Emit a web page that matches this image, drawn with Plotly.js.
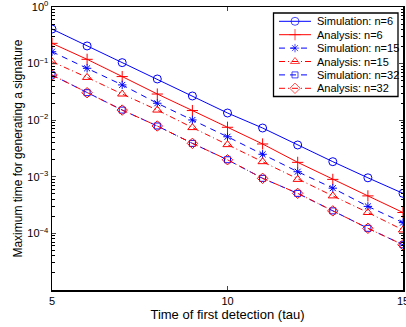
<!DOCTYPE html>
<html><head><meta charset="utf-8">
<script src="https://cdn.plot.ly/plotly-3.0.1.min.js"></script>
<style>html,body{margin:0;padding:0;background:#fff;}#chart{width:406px;height:327px;}</style>
</head><body><div id="chart"></div>
<script>
var tau = [5, 6, 7, 8, 9, 10, 11, 12, 13, 14, 15];
var simN6 = [0.408, 0.205, 0.104, 0.0535, 0.0268, 0.0134, 0.00728, 0.00365, 0.00185, 0.00096, 0.00051];
var anaN6 = [0.228, 0.119, 0.059, 0.029, 0.0148, 0.0075, 0.0038, 0.0018, 0.0009, 0.00046, 0.000234];
var simN15 = [0.162, 0.0826, 0.042, 0.0199, 0.0101, 0.0051, 0.0025, 0.00123, 0.00063, 0.0003, 0.000155];
var anaN15 = [0.108, 0.057, 0.029, 0.0151, 0.0074, 0.0037, 0.00185, 0.0009, 0.00046, 0.000234, 0.000115];
var simN32 = [0.063, 0.0306, 0.0151, 0.0079, 0.0039, 0.0020, 0.00094, 0.00051, 0.00025, 0.000123, 0.000063];
var anaN32 = [0.063, 0.0306, 0.0151, 0.0079, 0.0039, 0.0020, 0.00094, 0.00051, 0.00025, 0.000123, 0.000063];
var seriesNames = ['Simulation: n=6', 'Analysis: n=6', 'Simulation: n=15', 'Analysis: n=15', 'Simulation: n=32', 'Analysis: n=32'];
var yTickVals = [1e-5, 1e-4, 1e-3, 1e-2, 1e-1, 1];
var yTickText = ['', '10<sup>\u22124</sup>', '10<sup>\u22123</sup>', '10<sup>\u22122</sup>', '10<sup>\u22121</sup>', '10<sup>0</sup>'];
var xTickVals = [5, 10, 15];

var BLUE = 'rgb(0,0,255)', RED = 'rgb(255,0,0)';
var DASH = '6px,5px', DASHDOT = '6px,3px,1px,3px';
var styles = [
  {c: BLUE, d: 'solid', s: 'circle-open', z: 8},
  {c: RED, d: 'solid', s: 'cross-thin-open', z: 8},
  {c: BLUE, d: DASH, s: 'asterisk-open', z: 7},
  {c: RED, d: DASHDOT, s: 'triangle-up-open', z: 8},
  {c: BLUE, d: DASH, s: 'square-open', z: 6},
  {c: RED, d: DASHDOT, s: 'diamond-open', z: 8}
];
var series = [simN6, anaN6, simN15, anaN15, simN32, anaN32];
var data = [];
series.forEach(function (y, i) {
  var st = styles[i];
  data.push({x: tau, y: y, name: seriesNames[i], type: 'scatter', mode: 'lines+markers', showlegend: false,
    line: {color: st.c, width: 1, dash: st.d},
    marker: {symbol: st.s, size: st.z, color: st.c, line: {color: st.c, width: 1}}});
});

// custom compact legend drawn in a pixel-unit overlay axis
var legX0 = 279, legX1 = 311, legTextX = 315, legRow0 = 21.3, legRowH = 13.4;
var annotations = [];
series.forEach(function (y, i) {
  var st = styles[i];
  var ry = legRow0 + i * legRowH;
  data.push({x: [legX0, (legX0 + legX1) / 2, legX1], y: [ry, ry, ry], xaxis: 'x2', yaxis: 'y2',
    type: 'scatter', mode: 'lines+markers', showlegend: false, hoverinfo: 'skip',
    line: {color: st.c, width: 1, dash: st.d},
    marker: {symbol: st.s, size: [0, st.z, 0], color: st.c, line: {color: st.c, width: 1}}});
  annotations.push({xref: 'x2', yref: 'y2', x: legTextX, y: ry, text: seriesNames[i], showarrow: false,
    xanchor: 'left', yanchor: 'middle', font: {size: 11, color: '#000'}});
});

var minorVals = [];
for (var k = -5; k < 0; k++) for (var m = 2; m <= 9; m++) minorVals.push(m * Math.pow(10, k));

var layout = {
  width: 406, height: 327,
  margin: {l: 52, r: 3, t: 7, b: 37},
  paper_bgcolor: '#fff', plot_bgcolor: '#fff',
  font: {family: 'Liberation Sans, Arial, sans-serif', size: 11, color: '#000'},
  showlegend: false,
  annotations: annotations,
  shapes: [{type: 'rect', xref: 'x2', yref: 'y2', x0: 273.5, x1: 398, y0: 13, y1: 96.5,
    line: {color: '#000', width: 1.3}, fillcolor: '#fff', layer: 'below'}],
  xaxis: {range: [5, 15], tickvals: xTickVals, ticks: 'inside', ticklen: 4,
    showline: true, linecolor: '#000', linewidth: 1.5, mirror: 'ticks', showgrid: false, zeroline: false,
    tickfont: {size: 11}, ticklabeloverflow: 'allow',
    title: {text: 'Time of first detection (tau)', font: {size: 13}, standoff: 3}},
  yaxis: {type: 'log', range: [-5, 0], tickmode: 'array', tickvals: yTickVals, ticktext: yTickText,
    ticks: 'inside', ticklen: 4, showline: true, linecolor: '#000', linewidth: 1.5, mirror: 'ticks',
    showgrid: false, zeroline: false, tickfont: {size: 11}, ticklabeloverflow: 'allow',
    minor: {tickmode: 'array', tickvals: minorVals, ticks: 'inside', ticklen: 2.5, tickcolor: '#000', showgrid: false},
    title: {text: 'Maximum time for generating a signature', font: {size: 12}, standoff: 2}},
  xaxis2: {overlaying: 'x', range: [52, 403], visible: false, fixedrange: true},
  yaxis2: {overlaying: 'y', range: [290, 7], visible: false, fixedrange: true}
};
Plotly.newPlot('chart', data, layout, {displayModeBar: false, staticPlot: true});
</script></body></html>
